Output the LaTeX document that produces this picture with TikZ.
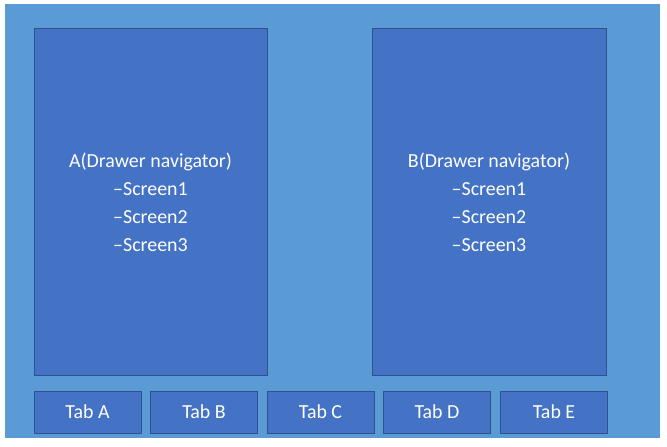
\documentclass[tikz,border=0pt]{standalone}
\usepackage{fontspec}
\setmainfont{Carlito}
\usetikzlibrary{positioning}
\definecolor{outerblue}{HTML}{5B9BD5}
\definecolor{boxblue}{HTML}{4472C4}
\definecolor{edgeblue}{HTML}{2F528F}
\tikzset{
  panel/.style={fill=boxblue,draw=edgeblue,line width=0.8pt,text=white,
    align=center,font=\fontsize{17}{24}\selectfont},
  tab/.style={panel,minimum width=3.21cm,minimum height=1.26cm}
}
\begin{document}
\begin{tikzpicture}[x=0.03cm,y=-0.03cm]
  \useasboundingbox (0,0) rectangle (667,447);
  \fill[outerblue] (5,4) rectangle (660,438);
  % drawer panels
  \draw[panel] (34,28) rectangle (267,375);
  \node[text=white,align=center,font=\fontsize{17}{24}\selectfont] (navA) at (150.5,202)
    {A(Drawer navigator)\\--Screen1\\--Screen2\\--Screen3};
  \draw[panel] (372,28) rectangle (606,375);
  \node[text=white,align=center,font=\fontsize{17}{24}\selectfont] (navB) at (489,202)
    {B(Drawer navigator)\\--Screen1\\--Screen2\\--Screen3};
  % tab bar
  \node[tab] (tabA) at (87.5,412) {Tab A};
  \node[tab] (tabB) at (204,412) {Tab B};
  \node[tab] (tabC) at (320.5,412) {Tab C};
  \node[tab] (tabD) at (437,412) {Tab D};
  \node[tab] (tabE) at (554,412) {Tab E};
\end{tikzpicture}
\end{document}
